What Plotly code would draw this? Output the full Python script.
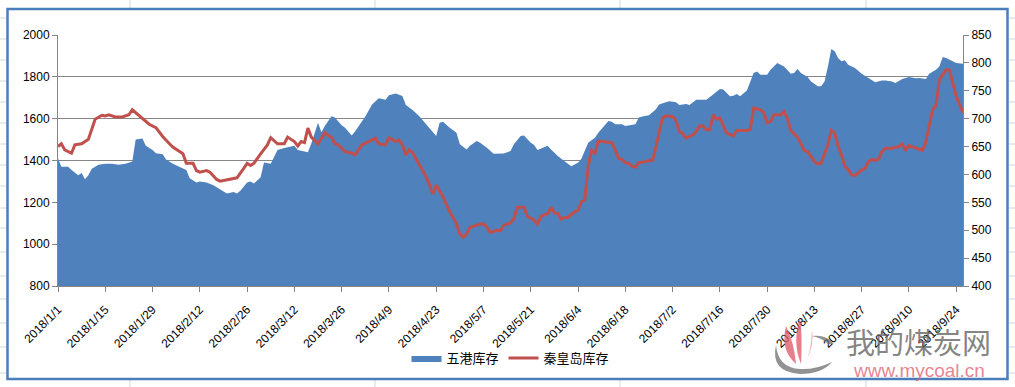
import pandas as pd
import plotly.graph_objects as go

# ---------------- data ----------------
start_date = "2018-01-01"
end_date = "2018-09-26"

# 五港库存 (left axis) : day offset from 2018-01-01, value
wugang_days = [0, 1, 3, 4, 6, 7, 8, 9, 10, 12, 14, 16, 18, 20, 22, 23, 25, 26, 28, 29, 31, 32, 34, 36, 38, 39, 40, 41, 42, 44,
               46, 48, 50, 52, 53, 54, 56, 57, 58, 60, 61, 63, 64, 65, 67, 69, 70, 71, 74, 75, 77, 78, 79, 81, 82, 84, 85, 87, 88, 91,
               93, 95, 97, 98, 100, 102, 103, 105, 107, 109, 111, 112, 113, 114, 116, 118, 119, 121, 122, 124, 125, 127, 129, 132, 134, 135, 137, 138, 140, 141,
               142, 143, 145, 146, 148, 150, 152, 154, 155, 157, 159, 160, 162, 163, 164, 165, 167, 168, 171, 172, 173, 175, 177, 178, 180, 181, 183, 184, 186, 187,
               189, 192, 194, 196, 197, 199, 200, 201, 202, 204, 206, 207, 208, 210, 211, 213, 215, 217, 218, 219, 220, 222, 223, 225, 226, 227, 228, 229, 230, 231,
               232, 233, 234, 236, 238, 239, 240, 242, 244, 245, 247, 248, 250, 252, 254, 255, 257, 258, 260, 261, 262, 263, 265, 266, 268]
wugang_vals = [1410, 1370, 1370, 1355, 1330, 1340, 1310, 1330, 1360, 1380, 1385, 1385, 1380, 1385, 1395, 1500, 1505, 1470, 1450, 1435, 1430, 1405, 1385, 1370, 1355, 1315, 1305, 1295, 1300, 1295,
               1282, 1262, 1242, 1250, 1242, 1255, 1295, 1300, 1290, 1320, 1390, 1385, 1420, 1450, 1460, 1465, 1470, 1450, 1440, 1480, 1580, 1535, 1565, 1612, 1605, 1568, 1557, 1520, 1540, 1610,
               1668, 1698, 1690, 1712, 1720, 1708, 1665, 1642, 1612, 1573, 1533, 1517, 1580, 1585, 1557, 1533, 1478, 1453, 1470, 1493, 1485, 1461, 1432, 1434, 1445, 1478, 1517, 1520, 1485, 1474,
               1450, 1457, 1470, 1453, 1421, 1397, 1373, 1389, 1408, 1485, 1509, 1533, 1568, 1589, 1585, 1573, 1573, 1565, 1573, 1605, 1610, 1616, 1644, 1668, 1678, 1683, 1678, 1665, 1670, 1665,
               1691, 1691, 1715, 1742, 1739, 1707, 1710, 1718, 1707, 1735, 1818, 1826, 1810, 1810, 1834, 1866, 1850, 1815, 1818, 1837, 1818, 1799, 1778, 1755, 1755, 1778, 1850, 1933, 1922, 1890,
               1874, 1879, 1858, 1842, 1815, 1806, 1794, 1774, 1783, 1782, 1778, 1770, 1790, 1799, 1793, 1794, 1790, 1815, 1834, 1850, 1895, 1890, 1874, 1866, 1863]

# 秦皇岛库存 (right axis)
qhd_days = [0, 1, 2, 4, 5, 7, 9, 10, 11, 13, 14, 15, 17, 19, 21, 22, 23, 25, 27, 29, 31, 33, 34, 37, 38, 40, 41, 42, 44, 45,
            47, 48, 51, 53, 55, 56, 57, 58, 60, 62, 63, 65, 67, 68, 70, 71, 72, 73, 74, 75, 77, 79, 81, 82, 83, 85, 87, 88, 90, 91,
            92, 94, 95, 97, 98, 100, 101, 102, 103, 104, 105, 107, 109, 110, 111, 112, 114, 116, 118, 119, 120, 121, 122, 124, 125, 126, 127, 128, 130, 131,
            132, 134, 135, 136, 138, 139, 141, 142, 143, 145, 146, 147, 148, 149, 150, 151, 153, 154, 155, 156, 157, 158, 159, 160, 162, 164, 165, 166, 167, 168,
            169, 170, 171, 172, 174, 175, 176, 177, 178, 179, 180, 182, 183, 184, 185, 186, 188, 189, 190, 191, 192, 193, 194, 195, 196, 197, 198, 200, 201, 204,
            205, 206, 208, 209, 210, 211, 212, 214, 215, 216, 217, 219, 220, 221, 222, 223, 224, 225, 226, 227, 228, 229, 230, 231, 232, 233, 234, 235, 236, 238,
            239, 240, 241, 242, 243, 244, 245, 247, 249, 250, 251, 252, 254, 256, 257, 258, 259, 260, 261, 262, 263, 264, 265, 266, 267, 268]
qhd_vals = [650, 655, 644, 638, 653, 655, 663, 680, 699, 706, 705, 707, 703, 703, 707, 716, 711, 700, 690, 684, 668, 655, 649, 637, 620, 620, 607, 604, 607, 604,
            591, 588, 591, 594, 611, 620, 616, 620, 637, 653, 666, 655, 655, 667, 659, 651, 659, 657, 683, 667, 655, 675, 666, 655, 653, 641, 638, 635, 653, 656,
            659, 665, 655, 653, 666, 659, 662, 653, 635, 644, 639, 617, 596, 581, 565, 581, 560, 533, 512, 493, 487, 493, 505, 509, 511, 511, 506, 496, 500, 499,
            509, 513, 521, 541, 541, 525, 518, 511, 525, 530, 541, 531, 530, 520, 523, 523, 533, 536, 551, 554, 614, 643, 638, 660, 659, 657, 644, 629, 627, 621,
            620, 615, 613, 621, 623, 625, 625, 647, 675, 701, 705, 704, 697, 677, 673, 665, 671, 677, 687, 687, 680, 680, 707, 699, 701, 686, 674, 669, 679, 679,
            681, 719, 716, 711, 693, 695, 707, 707, 713, 701, 679, 667, 656, 643, 641, 632, 623, 619, 620, 637, 653, 679, 674, 651, 635, 615, 609, 599, 598, 608,
            611, 623, 627, 625, 627, 641, 647, 647, 650, 655, 644, 652, 647, 643, 659, 689, 716, 723, 770, 779, 788, 787, 761, 740, 725, 710]

tick_dates = ["2018-01-01", "2018-01-15", "2018-01-29", "2018-02-12", "2018-02-26", "2018-03-12", "2018-03-26",
              "2018-04-09", "2018-04-23", "2018-05-07", "2018-05-21", "2018-06-04", "2018-06-18", "2018-07-02",
              "2018-07-16", "2018-07-30", "2018-08-13", "2018-08-27", "2018-09-10", "2018-09-24"]
tick_labels = ["2018/1/1", "2018/1/15", "2018/1/29", "2018/2/12", "2018/2/26", "2018/3/12", "2018/3/26",
               "2018/4/9", "2018/4/23", "2018/5/7", "2018/5/21", "2018/6/4", "2018/6/18", "2018/7/2",
               "2018/7/16", "2018/7/30", "2018/8/13", "2018/8/27", "2018/9/10", "2018/9/24"]

series_names = ["五港库存", "秦皇岛库存"]

# ---------------- figure ----------------
base = pd.Timestamp(start_date)
wugang_dates = base + pd.to_timedelta(wugang_days, unit="D")
qhd_dates = base + pd.to_timedelta(qhd_days, unit="D")

W, H = 1015, 387
ML, MR, MT, MB = 58, 52, 35, 101
PW, PH = W - ML - MR, H - MT - MB


def px(x, y):
    return (x - ML) / PW, (H - MB - y) / PH


fig = go.Figure()
fig.add_trace(go.Scatter(
    x=wugang_dates, y=wugang_vals, name=series_names[0], mode="lines",
    fill="tozeroy", fillcolor="#4F81BD", line=dict(color="#4F81BD", width=0),
    yaxis="y"))
fig.add_trace(go.Scatter(
    x=qhd_dates, y=qhd_vals, name=series_names[1], mode="lines",
    line=dict(color="#C0504D", width=3), yaxis="y2"))

axis_gray = "#868686"
tick_font = dict(family="Liberation Sans, Arial, sans-serif", size=12, color="#000000")

shapes = []
# spreadsheet gridlines outside the chart object
sheet = "#D0D7E5"
for xv in [130, 375, 620, 866]:
    for (y0, y1) in [(0, 8), (380, 387)]:
        a = px(xv, y0); b = px(xv, y1)
        shapes.append(dict(type="line", xref="paper", yref="paper", x0=a[0], y0=a[1], x1=b[0], y1=b[1],
                           line=dict(color=sheet, width=1), layer="below"))
for yv in [18, 39, 60, 81, 102, 123, 144, 165, 186, 208, 228, 252, 276, 299, 323, 347, 373]:
    for (x0, x1) in [(0, 6), (1009, 1015)]:
        a = px(x0, yv); b = px(x1, yv)
        shapes.append(dict(type="line", xref="paper", yref="paper", x0=a[0], y0=a[1], x1=b[0], y1=b[1],
                           line=dict(color=sheet, width=1), layer="below"))
# chart border
a = px(7.5, 9); b = px(1007.5, 379)
shapes.append(dict(type="rect", xref="paper", yref="paper", x0=a[0], y0=b[1], x1=b[0], y1=a[1],
                   line=dict(color="#4A7EBB", width=2.5), fillcolor="white", layer="below"))


def path(points, close=True):
    s = ""
    for i, (cmd, pts) in enumerate(points):
        s += cmd + " " + " ".join("%.5f,%.5f" % px(x, y) for x, y in pts) + " "
    return s + ("Z" if close else "")

# watermark logo (rough)
shapes.append(dict(type="path", xref="paper", yref="paper",
                   path=path([("M", [(776, 345)]), ("Q", [(770, 372), (800, 374)]), ("Q", [(822, 374), (832, 362)]),
                              ("Q", [(815, 370), (800, 369)]), ("Q", [(778, 368), (776, 345)])]),
                   fillcolor="rgba(110,110,110,0.75)", line=dict(width=0)))
shapes.append(dict(type="path", xref="paper", yref="paper",
                   path=path([("M", [(812, 336)]), ("Q", [(826, 334), (834, 344)]), ("L", [(828, 344)]),
                              ("Q", [(822, 338), (812, 336)])]),
                   fillcolor="rgba(110,110,110,0.75)", line=dict(width=0)))
for base_pt, tip, ctrl in [((796, 364), (786, 326), (780, 350)), ((801, 364), (800, 318), (792, 342)),
                           ((805, 364), (812, 330), (812, 350))]:
    shapes.append(dict(type="path", xref="paper", yref="paper",
                       path=path([("M", [base_pt]), ("Q", [ctrl, tip]),
                                  ("Q", [((ctrl[0] + base_pt[0]) / 2 + 6, (ctrl[1] + tip[1]) / 2 + 4), base_pt])]),
                       fillcolor="rgba(225,95,110,0.8)", line=dict(width=0)))

annotations = []
p = px(918, 341)
annotations.append(dict(x=p[0], y=p[1], xref="paper", yref="paper", text="我的煤炭网", showarrow=False,
                        font=dict(family="Noto Sans CJK SC", size=29, color="rgba(100,100,100,0.8)"),
                        xanchor="center", yanchor="middle"))
p = px(919, 370)
annotations.append(dict(x=p[0], y=p[1], xref="paper", yref="paper", text="www.mycoal.cn", showarrow=False,
                        font=dict(family="Liberation Sans, Arial", size=19, color="rgba(225,100,115,0.8)"),
                        xanchor="center", yanchor="middle"))

fig.update_layout(
    width=W, height=H,
    margin=dict(l=ML, r=MR, t=MT, b=MB, autoexpand=False),
    paper_bgcolor="white", plot_bgcolor="rgba(0,0,0,0)",
    showlegend=True,
    legend=dict(orientation="h", x=0.5, xanchor="center", y=px(0, 358)[1], yanchor="middle",
                font=dict(family="Noto Sans CJK SC", size=13, color="#000000"),
                bgcolor="rgba(0,0,0,0)", itemwidth=30, tracegroupgap=0),
    xaxis=dict(type="date", range=[start_date, end_date], tickvals=tick_dates, ticktext=tick_labels,
               tickangle=-45, tickfont=tick_font, ticks="outside", ticklen=5, tickcolor=axis_gray,
               ticklabelstandoff=6,
               showline=True, linecolor=axis_gray, linewidth=1, showgrid=False, zeroline=False),
    yaxis=dict(range=[800, 2000], dtick=200, tickfont=tick_font, ticks="outside", ticklen=5,
               tickcolor=axis_gray, showline=True, linecolor=axis_gray, linewidth=1,
               showgrid=True, gridcolor=axis_gray, gridwidth=1, zeroline=False),
    yaxis2=dict(range=[400, 850], dtick=50, overlaying="y", side="right", tickfont=tick_font,
                ticks="outside", ticklen=5, tickcolor=axis_gray, showline=True, linecolor=axis_gray,
                linewidth=1, showgrid=False, zeroline=False),
    shapes=shapes, annotations=annotations,
)

fig.write_html("out.html", config={"displayModeBar": False})

# remove the browser's default page margin so the figure sits at the window's top-left corner
with open("out.html", "r", encoding="utf-8") as f:
    html = f.read()
html = html.replace("<body>", '<body style="margin:0;padding:0;overflow:hidden">', 1)
with open("out.html", "w", encoding="utf-8") as f:
    f.write(html)
